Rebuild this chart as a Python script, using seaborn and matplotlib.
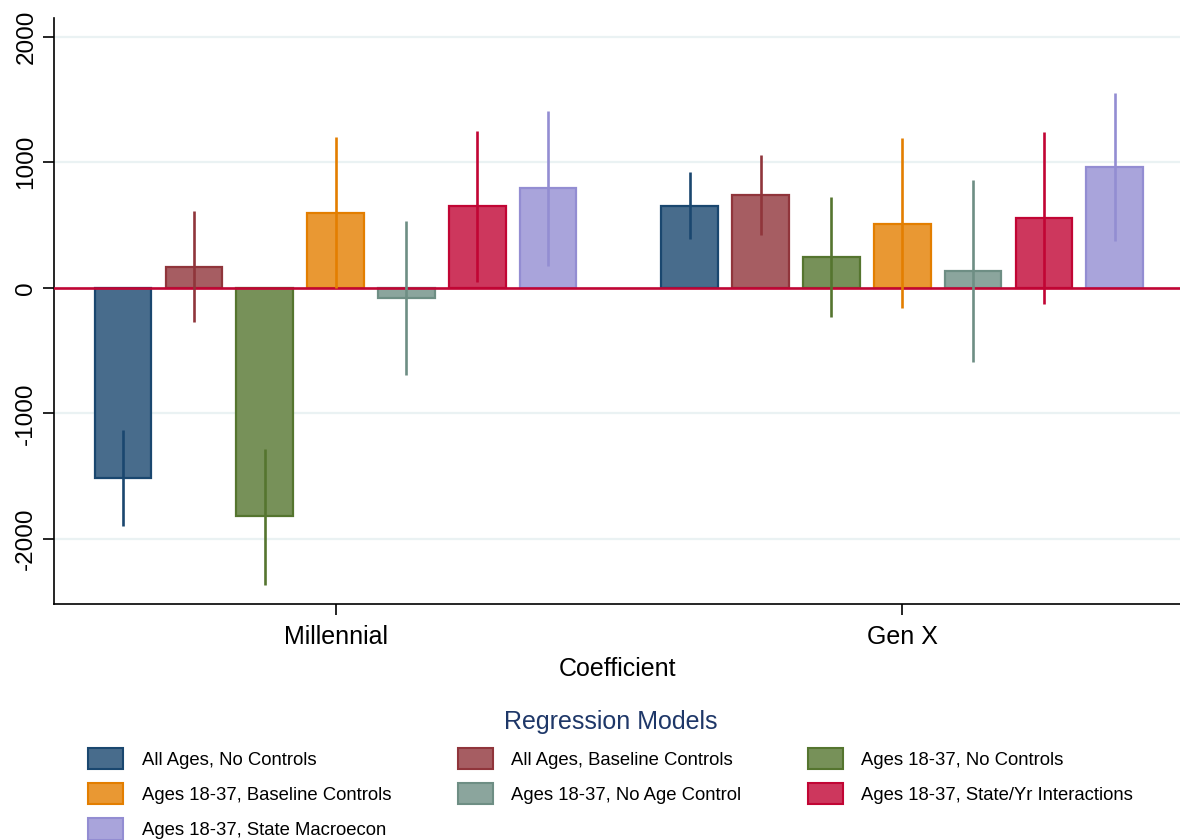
import matplotlib
matplotlib.use('Agg')
import matplotlib.pyplot as plt
import matplotlib.patches as mpatches
import numpy as np
import pandas as pd
import seaborn as sns

coefficients = ['Millennial', 'Gen X']
models = ['All Ages, No Controls', 'All Ages, Baseline Controls',
          'Ages 18-37, No Controls', 'Ages 18-37, Baseline Controls',
          'Ages 18-37, No Age Control', 'Ages 18-37, State/Yr Interactions',
          'Ages 18-37, State Macroecon']
millennial_est = [-1515, 168, -1820, 598, -80, 648, 792]
millennial_lo = [-1900, -276, -2365, -3, -693, 50, 177]
millennial_hi = [-1135, 615, -1285, 1200, 531, 1248, 1409]
genx_est = [653, 742, 247, 512, 133, 553, 960]
genx_lo = [388, 423, -229, -165, -590, -128, 372]
genx_hi = [920, 1061, 723, 1191, 862, 1239, 1553]

edge_colors = ['#1a476f', '#90353b', '#55752f', '#e37e00', '#6e8e84', '#c10534', '#938dd2']
fill_colors = ['#486c8c', '#a65d62', '#779159', '#e99833', '#8ba59d', '#cd375d', '#a9a4db']

df = pd.DataFrame({
    'coef': np.repeat(coefficients, len(models)),
    'model': models * 2,
    'est': millennial_est + genx_est,
    'lo': millennial_lo + genx_lo,
    'hi': millennial_hi + genx_hi,
})

sns.set_style('white')
plt.rcParams['font.family'] = ['Liberation Sans', 'DejaVu Sans']
plt.rcParams['text.color'] = 'black'
plt.rcParams['axes.labelcolor'] = 'black'
plt.rcParams['xtick.color'] = 'black'
plt.rcParams['ytick.color'] = 'black'

fig = plt.figure(figsize=(11.8, 8.4), dpi=100)
ax = fig.add_axes([54 / 1180, 1 - 604 / 840, 1 - 54 / 1180, (604 - 18) / 840])

sns.barplot(data=df, x='coef', y='est', hue='model', order=coefficients,
            hue_order=models, palette=fill_colors, saturation=1, errorbar=None,
            width=0.875, gap=0.2, linewidth=1.6, legend=False, ax=ax, zorder=2)

for i, cont in enumerate(ax.containers):
    sub = df[df['model'] == models[i]].set_index('coef').loc[coefficients]
    for bar, lo, hi in zip(cont, sub['lo'], sub['hi']):
        bar.set_edgecolor(edge_colors[i])
        x = bar.get_x() + bar.get_width() / 2
        ax.vlines(x, lo, hi, color=edge_colors[i], lw=1.9, zorder=4)

ax.axhline(0, color='#c10534', lw=1.9, zorder=3)

yticks = [-2000, -1000, 0, 1000, 2000]
ax.set_yticks(yticks)
ax.set_yticklabels([str(t) for t in yticks], rotation=90, va='center', fontsize=17.5)
for t in yticks:
    ax.axhline(t, color='#eaf2f3', lw=1.6, zorder=0)
ax.set_ylim(-2520, 2150)
ax.set_xlim(-0.497, 1.49)

ax.set_xlabel('Coefficient', fontsize=18, labelpad=6)
ax.set_ylabel('')
ax.tick_params(axis='x', labelsize=18, length=8, width=1.2, direction='out', pad=7, bottom=True)
ax.tick_params(axis='y', length=8, width=1.2, direction='out', pad=4, left=True)

sns.despine(ax=ax, top=True, right=True)
for s in ['left', 'bottom']:
    ax.spines[s].set_linewidth(1.2)
    ax.spines[s].set_color('black')

handles = [mpatches.Patch(facecolor=fill_colors[i], edgecolor=edge_colors[i],
                          linewidth=1.5, label=models[i]) for i in range(len(models))]
order = [0, 3, 6, 1, 4, 2, 5]
leg = fig.legend([handles[i] for i in order], [models[i] for i in order],
                 ncol=3, loc='upper left', bbox_to_anchor=(88 / 1180, 1 - 710 / 840),
                 frameon=False, fontsize=13.3, title='Regression Models',
                 title_fontsize=18, handlelength=1.9, handleheight=1.4,
                 handletextpad=1.0, labelspacing=0.75, columnspacing=3.6,
                 borderpad=0, borderaxespad=0)
leg.get_title().set_color('#1e3768')

fig.savefig('out.png', dpi=100)
